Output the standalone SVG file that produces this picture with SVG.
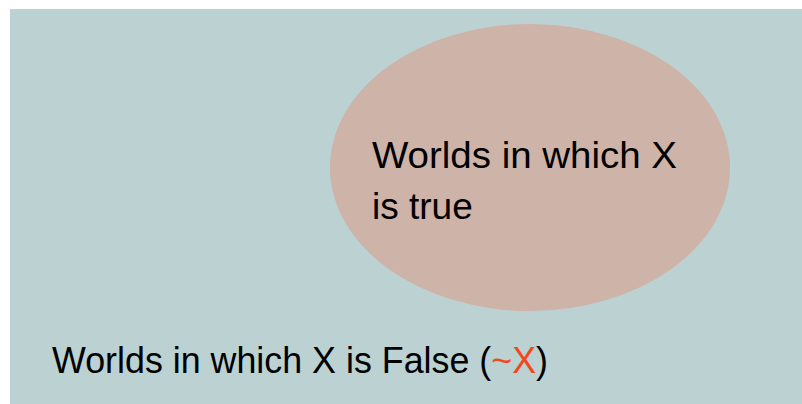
<svg xmlns="http://www.w3.org/2000/svg" width="802" height="404" viewBox="0 0 802 404">
<style>
.t{font-family:"Liberation Sans",Arial,sans-serif;font-size:37px;fill:#000}
</style>
<rect x="0" y="0" width="802" height="404" fill="#ffffff"/>
<g id="universe">
<rect x="10" y="9" width="792" height="395" fill="#BBD1D2"/>
<text class="t" x="52" y="373" textLength="496" lengthAdjust="spacingAndGlyphs">Worlds in which X is False (<tspan fill="#F5471C">~X</tspan>)</text>
</g>
<g id="x-true">
<ellipse cx="530" cy="167.5" rx="200" ry="143.5" fill="#CEB3A8"/>
<text class="t" x="372" y="168" textLength="305" lengthAdjust="spacingAndGlyphs">Worlds in which X</text>
<text class="t" x="372" y="219">is true</text>
</g>
</svg>
